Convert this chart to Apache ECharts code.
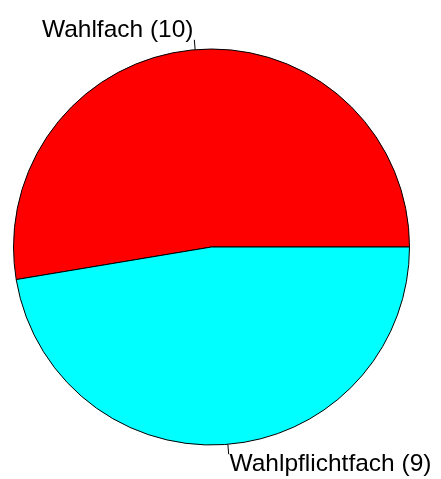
<!DOCTYPE html>
<html>
<head>
<meta charset="utf-8">
<script src="https://cdn.jsdelivr.net/npm/echarts@6/dist/echarts.min.js"></script>
<style>
html,body{margin:0;padding:0;background:#fff;}
#main{width:441px;height:479px;}
</style>
</head>
<body>
<div id="main"></div>
<script>
// Daten
const categories = ['Wahlfach', 'Wahlpflichtfach'];
const counts = [10, 9];
const colors = ['#ff0000', '#00ffff'];

const cx = 211.5, cy = 247, r = 198;
const total = counts.reduce((a, b) => a + b, 0);

// Mittelwinkel je Segment (gegen Uhrzeigersinn ab 3 Uhr, wie in R)
const midAngles = [];
let acc = 0;
counts.forEach(v => {
    const a0 = acc / total * 2 * Math.PI;
    acc += v;
    const a1 = acc / total * 2 * Math.PI;
    midAngles.push((a0 + a1) / 2);
});

const myEcharts = echarts.init(document.getElementById('main'));
const option = {
    animation: false,
    series: [{
        type: 'pie',
        center: [cx, cy],
        radius: r,
        startAngle: 0,
        clockwise: false,
        itemStyle: { borderColor: '#000', borderWidth: 1 },
        label: {
            show: true,
            formatter: p => p.name + ' (' + p.value + ')',
            fontFamily: 'Liberation Sans, Arial, sans-serif',
            fontSize: 24.5,
            color: '#000',
            overflow: 'none'
        },
        labelLine: { show: true, lineStyle: { color: '#000', width: 1 } },
        labelLayout: function (params) {
            const a = midAngles[params.dataIndex];
            const c = Math.cos(a), s = Math.sin(a);
            return {
                x: cx + 1.1 * r * c,
                y: cy - 1.1 * r * s,
                width: 300,
                align: c < 0 ? 'right' : 'left',
                verticalAlign: 'middle',
                labelLinePoints: [
                    [cx + r * c, cy - r * s],
                    [cx + 1.05 * r * c, cy - 1.05 * r * s],
                    [cx + 1.05 * r * c, cy - 1.05 * r * s]
                ]
            };
        },
        emphasis: { disabled: true },
        data: categories.map((n, i) => ({
            name: n,
            value: counts[i],
            itemStyle: { color: colors[i] }
        }))
    }]
};
myEcharts.setOption(option);
</script>
</body>
</html>
